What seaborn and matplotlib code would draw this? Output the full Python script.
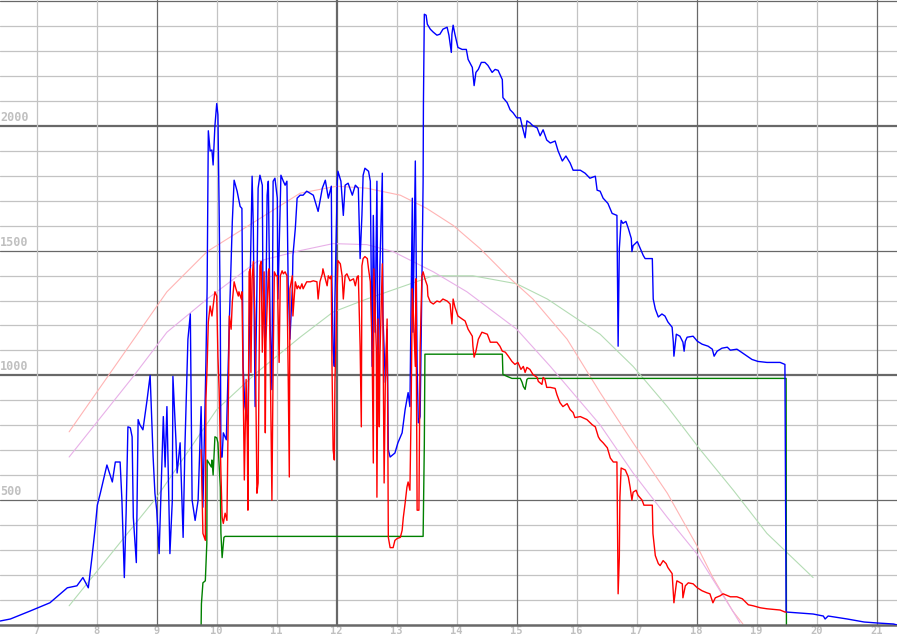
import matplotlib
matplotlib.use("Agg")
import matplotlib.pyplot as plt
import seaborn as sns
import pandas as pd

# ---------------- data (hour of day, value) ----------------
blue_h = [6.39, 6.56, 6.89, 7.22, 7.51, 7.67, 7.77, 7.86, 7.92, 7.97, 8.01, 8.06, 8.17, 8.26, 8.31, 8.39,
          8.42, 8.46, 8.49, 8.52, 8.56, 8.59, 8.61, 8.66, 8.69, 8.72, 8.77, 8.84, 8.89, 8.94, 8.97, 9.00,
          9.04, 9.11, 9.14, 9.17, 9.22, 9.26, 9.27, 9.32, 9.34, 9.39, 9.44, 9.47, 9.52, 9.56, 9.59, 9.64,
          9.69, 9.74, 9.77, 9.82, 9.84, 9.86, 9.89, 9.92, 9.94, 9.97, 10.00, 10.02, 10.04, 10.06, 10.07,
          10.09, 10.11, 10.16, 10.21, 10.26, 10.29, 10.34, 10.39, 10.42, 10.44, 10.47, 10.52, 10.56, 10.59,
          10.61, 10.64, 10.67, 10.69, 10.72, 10.76, 10.77, 10.81, 10.84, 10.86, 10.89, 10.92, 10.94, 10.97,
          11.01, 11.02, 11.07, 11.11, 11.14, 11.17, 11.19, 11.22, 11.26, 11.27, 11.31, 11.34, 11.39, 11.44,
          11.50, 11.61, 11.69, 11.76, 11.81, 11.86, 11.91, 11.92, 11.94, 11.96, 11.97, 12.01, 12.02, 12.07,
          12.11, 12.14, 12.19, 12.26, 12.31, 12.36, 12.39, 12.42, 12.44, 12.47, 12.53, 12.56, 12.59, 12.61,
          12.64, 12.67, 12.69, 12.72, 12.76, 12.77, 12.81, 12.84, 12.86, 12.89, 12.97, 13.02, 13.09, 13.14,
          13.19, 13.22, 13.26, 13.27, 13.31, 13.34, 13.36, 13.39, 13.42, 13.44, 13.445, 13.46, 13.49, 13.51,
          13.56, 13.61, 13.67, 13.72, 13.77, 13.84, 13.87, 13.91, 13.92, 13.94, 13.97, 14.02, 14.09, 14.16,
          14.19, 14.26, 14.29, 14.32, 14.36, 14.41, 14.47, 14.52, 14.59, 14.64, 14.69, 14.76, 14.77, 14.84,
          14.89, 14.94, 15.00, 15.06, 15.09, 15.14, 15.17, 15.22, 15.27, 15.34, 15.39, 15.44, 15.50, 15.56,
          15.64, 15.69, 15.76, 15.82, 15.89, 15.94, 16.06, 16.14, 16.22, 16.31, 16.34, 16.39, 16.44, 16.52,
          16.59, 16.67, 16.68, 16.69, 16.71, 16.74, 16.77, 16.82, 16.86, 16.91, 16.92, 16.94, 17.01, 17.06,
          17.11, 17.14, 17.26, 17.27, 17.275, 17.31, 17.36, 17.42, 17.47, 17.52, 17.59, 17.61, 17.62, 17.66,
          17.72, 17.77, 17.79, 17.81, 17.84, 17.94, 18.01, 18.09, 18.19, 18.26, 18.29, 18.34, 18.42, 18.51,
          18.56, 18.67, 18.72, 18.84, 18.92, 19.02, 19.17, 19.39, 19.47, 19.49, 19.72, 19.94, 20.11, 20.14,
          20.19, 20.51, 20.79, 21.01, 21.28, 21.34]
blue_v = [16, 24, 56, 89, 149, 157, 190, 149, 270, 379, 480, 528, 641, 573, 653, 653,
          500, 190, 448, 794, 790, 754, 431, 250, 823, 802, 782, 903, 1000, 673, 528, 460,
          286, 835, 633, 875, 286, 500, 996, 742, 609, 730, 351, 714, 1145, 1246, 500, 419,
          500, 875, 472, 1052, 1347, 1980, 1899, 1903, 1843, 2000, 2089, 2044, 1669, 1226, 673,
          673, 770, 742, 1214, 1617, 1782, 1738, 1677, 1669, 1036, 875, 810, 1415, 1798,
          1589, 875, 1347, 1750, 1802, 1762, 1347, 1077, 1722, 1778, 1214, 943, 1778, 1790,
          1710, 1306, 1802, 1778, 1762, 1778, 1375, 1145, 1347, 1480, 1589, 1710, 1722, 1722,
          1738, 1722, 1657, 1750, 1782, 1710, 1758, 1375, 1105, 1036, 1306, 1778, 1818, 1778,
          1641, 1762, 1770, 1722, 1762, 1750, 1468, 1641, 1802, 1830, 1818, 1778, 1036, 1641,
          1173, 1778, 903, 1439, 1810, 1238, 972, 1185, 702, 673, 689, 730, 770, 863,
          931, 875, 1710, 1173, 1859, 1036, 810, 835, 1375, 1778, 2085, 2447, 2443, 2407,
          2387, 2375, 2363, 2367, 2387, 2395, 2363, 2294, 2367, 2403, 2367, 2314, 2306, 2306,
          2266, 2234, 2161, 2214, 2226, 2254, 2254, 2242, 2214, 2226, 2222, 2185, 2113, 2093,
          2064, 2052, 2032, 2032, 2000, 1952, 2020, 2012, 2000, 1992, 1960, 1984, 1943, 1931,
          1939, 1899, 1859, 1879, 1851, 1822, 1822, 1810, 1790, 1798, 1742, 1738, 1710, 1689,
          1649, 1641, 1375, 1117, 1508, 1621, 1609, 1617, 1589, 1548, 1496, 1520, 1536, 1508,
          1480, 1468, 1468, 1359, 1306, 1266, 1234, 1246, 1238, 1214, 1193, 1133, 1077, 1165,
          1157, 1133, 1097, 1137, 1153, 1157, 1137, 1125, 1117, 1105, 1077, 1097, 1109, 1113,
          1101, 1105, 1097, 1077, 1064, 1056, 1052, 1052, 1044, 52, 48, 44, 36, 24,
          36, 24, 12, 8, 4, 0]

red_h = [9.74, 9.77, 9.81, 9.82, 9.84, 9.86, 9.89, 9.92, 9.94, 9.97, 10.00, 10.02, 10.04, 10.07, 10.09,
         10.11, 10.14, 10.17, 10.19, 10.21, 10.24, 10.26, 10.29, 10.32, 10.36, 10.37, 10.41, 10.42, 10.44,
         10.46, 10.49, 10.51, 10.52, 10.54, 10.56, 10.57, 10.59, 10.61, 10.64, 10.67, 10.69, 10.72, 10.74,
         10.76, 10.79, 10.81, 10.82, 10.86, 10.87, 10.89, 10.92, 10.94, 10.96, 10.99, 11.01, 11.04, 11.06,
         11.09, 11.11, 11.14, 11.17, 11.19, 11.21, 11.22, 11.26, 11.27, 11.31, 11.34, 11.36, 11.39, 11.42,
         11.44, 11.50, 11.56, 11.61, 11.67, 11.69, 11.72, 11.76, 11.77, 11.81, 11.84, 11.86, 11.89, 11.91,
         11.92, 11.94, 11.96, 11.97, 12.01, 12.02, 12.06, 12.09, 12.11, 12.14, 12.17, 12.22, 12.28, 12.31,
         12.34, 12.36, 12.39, 12.41, 12.42, 12.44, 12.47, 12.51, 12.53, 12.56, 12.59, 12.61, 12.62, 12.66,
         12.67, 12.69, 12.71, 12.72, 12.76, 12.77, 12.79, 12.81, 12.84, 12.85, 12.86, 12.89, 12.94, 12.97,
         13.01, 13.06, 13.09, 13.11, 13.14, 13.17, 13.19, 13.22, 13.24, 13.26, 13.27, 13.31, 13.32, 13.34,
         13.37, 13.39, 13.42, 13.44, 13.47, 13.51, 13.52, 13.56, 13.61, 13.67, 13.72, 13.77, 13.84, 13.89,
         13.92, 13.94, 13.97, 14.02, 14.09, 14.14, 14.19, 14.26, 14.27, 14.29, 14.32, 14.36, 14.42, 14.51,
         14.56, 14.61, 14.67, 14.72, 14.76, 14.81, 14.86, 14.92, 14.97, 15.02, 15.07, 15.11, 15.14, 15.17,
         15.22, 15.27, 15.34, 15.36, 15.42, 15.44, 15.47, 15.50, 15.56, 15.64, 15.67, 15.72, 15.77, 15.84,
         15.89, 15.94, 15.97, 16.06, 16.17, 16.26, 16.31, 16.36, 16.39, 16.44, 16.51, 16.56, 16.61, 16.67,
         16.68, 16.69, 16.71, 16.72, 16.74, 16.81, 16.86, 16.89, 16.92, 16.94, 16.99, 17.02, 17.09, 17.12,
         17.26, 17.27, 17.31, 17.36, 17.39, 17.44, 17.49, 17.52, 17.59, 17.61, 17.62, 17.66, 17.67, 17.76,
         17.77, 17.81, 17.86, 17.94, 18.01, 18.09, 18.17, 18.22, 18.27, 18.31, 18.39, 18.44, 18.56, 18.67,
         18.76, 18.86, 18.94, 19.06, 19.17, 19.39, 19.47, 19.49]
red_v = [702, 367, 339, 903, 1036, 1214, 1278, 1238, 1278, 1335, 1318, 1077, 943, 609, 431,
         407, 448, 419, 810, 1238, 1185, 1294, 1375, 1347, 1318, 1335, 1306, 1335, 984,
         581, 984, 742, 460, 1415, 1427, 1012, 1387, 1456, 1214, 528, 569, 1439, 1456,
         1093, 1415, 770, 1133, 1415, 1427, 1093, 500, 1036, 1415, 1399, 1399, 1052, 1399,
         1419, 1407, 1415, 1399, 1024, 593, 1347, 1399, 1238, 1375, 1347, 1359, 1347, 1367,
         1347, 1375, 1375, 1379, 1375, 1306, 1375, 1407, 1427, 1387, 1359, 1399, 1387, 1399,
         1064, 702, 661, 972, 1359, 1460, 1447, 1399, 1306, 1399, 1407, 1379, 1387, 1359,
         1395, 1399, 1117, 794, 1439, 1468, 1476, 1468, 1427, 1375, 1105, 649, 1427, 1105,
         512, 1226, 794, 1077, 1447, 1214, 569, 972, 1226, 835, 351, 310, 310, 339,
         347, 351, 379, 431, 488, 552, 573, 540, 863, 1347, 1294, 1036, 1387, 460,
         460, 1105, 1399, 1415, 1387, 1359, 1318, 1294, 1286, 1298, 1294, 1306, 1298, 1286,
         1206, 1306, 1274, 1238, 1226, 1218, 1185, 1157, 1117, 1073, 1097, 1145, 1173, 1165,
         1133, 1133, 1133, 1117, 1097, 1093, 1077, 1056, 1044, 1052, 1024, 1036, 1012, 1032,
         1024, 1004, 992, 976, 964, 992, 984, 952, 952, 948, 923, 891, 875, 887,
         863, 851, 831, 835, 823, 802, 794, 754, 742, 730, 710, 669, 653, 653,
         391, 125, 270, 512, 629, 621, 593, 552, 500, 532, 540, 520, 500, 480,
         480, 367, 278, 246, 238, 258, 246, 230, 206, 125, 89, 165, 177, 165,
         109, 157, 169, 165, 149, 137, 129, 125, 89, 109, 117, 125, 113, 113,
         105, 81, 77, 69, 65, 60, 52, 52]

green_h = [9.74, 9.745, 9.77, 9.81, 9.835, 9.84, 9.87, 9.91, 9.92, 9.94, 9.97, 10.00, 10.02, 10.06, 10.07,
           10.09, 10.12, 10.14, 13.44, 13.46, 13.47, 14.76, 14.77, 14.84, 14.92, 15.06, 15.09, 15.11,
           15.14, 15.17, 15.19, 19.49, 19.495]
green_v = [0, 85, 169, 177, 327, 661, 649, 633, 661, 601, 754, 750, 730, 552, 367,
           270, 351, 355, 355, 722, 1085, 1085, 1004, 996, 988, 988, 972, 956,
           944, 984, 988, 988, 0]

pink_h = [7.54, 9.17, 9.84, 11.39, 12.0, 12.5, 13.06, 13.50, 13.94, 14.39, 14.84, 15.27, 15.84, 16.39,
          16.94, 17.51, 18.0, 18.27, 18.6, 18.77]
pink_v = [774, 1335, 1496, 1730, 1758, 1750, 1722, 1669, 1601, 1508, 1399, 1306, 1145, 931,
          730, 528, 319, 190, 56, 4]

violet_h = [7.54, 8.61, 9.17, 9.84, 10.67, 11.39, 11.94, 12.5, 12.94, 13.61, 14.17, 15.0, 15.56, 16.39,
            16.94, 17.51, 18.0, 18.6, 18.72]
violet_v = [673, 996, 1173, 1306, 1456, 1500, 1528, 1524, 1496, 1415, 1335, 1185, 1036, 802,
            609, 431, 286, 56, 8]

lgreen_h = [7.54, 9.0, 10.0, 10.67, 11.39, 11.94, 12.5, 13.61, 14.27, 15.0, 15.51, 16.39, 16.94, 17.51,
            18.06, 18.61, 19.17, 19.94]
lgreen_v = [77, 512, 863, 1012, 1153, 1254, 1306, 1399, 1399, 1367, 1306, 1165, 1036, 875,
            702, 540, 367, 190]

x_ticks = list(range(7, 22))
y_labels = [500, 1000, 1500, 2000]

# ---------------- figure ----------------
sns.set_style("white")
plt.rcParams['font.family'] = ['DejaVu Sans Mono', 'DejaVu Sans']

fig = plt.figure(figsize=(8.97, 6.37), dpi=100)
ax = fig.add_axes([0, 12 / 637, 1, 625 / 637])
ax.set_facecolor("white")

XMIN, XMAX = 6.388, 21.338
YMIN, YMAX = 0, 2504
ax.set_xlim(XMIN, XMAX)
ax.set_ylim(YMIN, YMAX)

light = "#c3c3c3"
dark = "#686868"
# grid
for v in range(100, 2600, 100):
    if v % 1000 == 0:
        ax.axhline(v, color=dark, lw=1.6, zorder=0)
    elif v % 500 == 0:
        ax.axhline(v, color=dark, lw=0.9, zorder=0)
    else:
        ax.axhline(v, color=light, lw=0.9, zorder=0)
for h in range(7, 22):
    if h == 12:
        ax.axvline(h, color=dark, lw=1.6, zorder=0)
    elif h % 3 == 0:
        ax.axvline(h, color=dark, lw=0.9, zorder=0)
    else:
        ax.axvline(h, color=light, lw=0.9, zorder=0)

def draw(hs, vs, color, lw, z):
    df = pd.DataFrame({"h": hs, "v": vs})
    sns.lineplot(data=df, x="h", y="v", estimator=None, sort=False, color=color,
                 lw=lw, ax=ax, zorder=z)

draw(lgreen_h, lgreen_v, "#b4dcb4", 0.8, 1)
draw(pink_h, pink_v, "#ffb4b4", 0.8, 1)
draw(violet_h, violet_v, "#e8b0e8", 0.8, 1)
draw(green_h, green_v, "#008000", 1.0, 2)
draw(blue_h, blue_v, "#0000ff", 1.0, 3)
draw(red_h, red_v, "#ff0000", 1.0, 4)

# axes styling
for s in ["top", "left", "right"]:
    ax.spines[s].set_visible(False)
ax.spines["bottom"].set_color(dark)
ax.spines["bottom"].set_linewidth(1.8)
ax.set_xlabel("")
ax.set_ylabel("")
ax.set_yticks([])
ax.set_xticks(x_ticks)
ax.set_xticklabels([str(t) for t in x_ticks], color="#c0c0c0", fontsize=7.5,
                   fontweight="bold", family=['DejaVu Sans Mono'])
ax.tick_params(axis="x", length=0, pad=0.5)

for v in y_labels:
    ax.text(XMIN + 0.005, v + 8, str(v), color="#c0c0c0", fontsize=8.5, fontweight="bold",
            ha="left", va="bottom", zorder=5, family=['DejaVu Sans Mono'])

fig.savefig("out.png", dpi=100)
